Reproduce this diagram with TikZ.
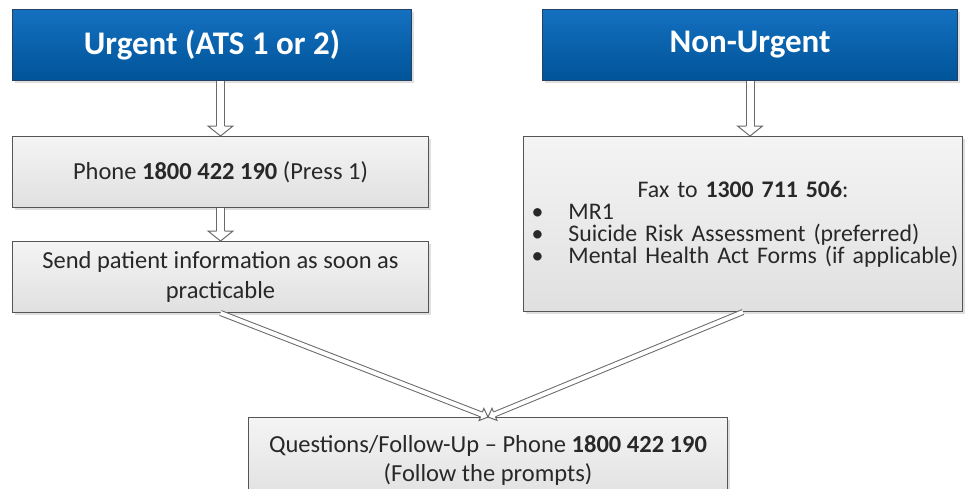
\documentclass[tikz,border=0pt]{standalone}
\usepackage{fontspec}
\setmainfont{Carlito}
\usetikzlibrary{positioning, calc, shadows}

\definecolor{titletop}{RGB}{20,112,192}
\definecolor{titlebot}{RGB}{0,84,152}
\definecolor{titleline}{RGB}{38,64,100}
\definecolor{boxtop}{RGB}{244,244,244}
\definecolor{boxbot}{RGB}{224,224,224}
\definecolor{boxline}{RGB}{85,85,85}
\definecolor{arrowline}{RGB}{105,105,105}
\definecolor{textgray}{RGB}{40,40,40}

\tikzset{
  titlebox/.style={draw=titleline, line width=1pt, top color=titletop, bottom color=titlebot,
    minimum height=71pt, text=white, font=\fontsize{33}{38}\selectfont\bfseries,
    drop shadow={shadow xshift=2pt, shadow yshift=-2pt, opacity=.25}},
  infobox/.style={draw=boxline, line width=1pt, top color=boxtop, bottom color=boxbot,
    drop shadow={shadow xshift=2pt, shadow yshift=-2pt, opacity=.25}},
  shaft/.style={draw=arrowline, line width=1pt, double=white},
}

% from, to, inner width, edge offset, head half width, head length
\newcommand{\hollowarrow}[6]{%
  \coordinate (hb) at ($(#2)!#6!(#1)$);
  \draw[shaft, double distance=#3] (#1) -- (hb);
  \filldraw[draw=arrowline, fill=white, line width=1pt, line join=miter]
    ($(hb)!#4!90:(#2)$) -- ($(hb)!#5!90:(#2)$) -- (#2)
    -- ($(hb)!#5!-90:(#2)$) -- ($(hb)!#4!-90:(#2)$);
}
\newcommand{\faxitem}[1]{\makebox[423pt][l]{\makebox[37pt][l]{\textbullet}#1}}

\begin{document}
\begin{tikzpicture}[x=1pt, y=-1pt, font=\color{textgray}\fontsize{24.5}{30}\selectfont]
  \useasboundingbox (0,0) rectangle (965,488);
  \fill[white] (0,0) rectangle (965,488);
  \clip (0,0) rectangle (965,488);
  % headings
  \node[titlebox, minimum width=399pt, anchor=north west] (urgent) at (12,9) {Urgent (ATS 1 or 2)};
  \node[titlebox, minimum width=415pt, anchor=north west] (nonurgent) at (542,9) {Non-Urgent};
  % urgent side
  \node[infobox, minimum width=416pt, minimum height=71pt, anchor=north west] (phone) at (12,136)
    {Phone \textbf{1800 422 190} (Press 1)};
  \node[infobox, minimum width=416pt, minimum height=71pt, below=33pt of phone, align=center] (send)
    {Send patient information as soon as\\practicable};
  % non-urgent side
  \node[infobox, minimum width=439pt, minimum height=175pt, anchor=north west, inner xsep=8pt,
    text width=423pt, align=center, font=\color{textgray}\fontsize{23.8}{22}\selectfont] (fax) at (523,136)
    {Fax to \textbf{1300 711 506}:\\
     \faxitem{MR1}\\
     \faxitem{Suicide Risk Assessment (preferred)}\\
     \faxitem{Mental Health Act Forms (if applicable)}};
  % both
  \node[infobox, minimum width=479pt, minimum height=86pt, anchor=north west, align=center,
    font=\color{textgray}\fontsize{24.5}{29}\selectfont] (follow) at (248,417)
    {Questions/Follow-Up – Phone \textbf{1800 422 190}\\(Follow the prompts)};

  \coordinate (ua) at (phone.north |- urgent.south);
  \coordinate (nb) at (nonurgent.south |- fax.north);
  \hollowarrow{ua}{phone.north}{7pt}{4pt}{12.5pt}{10pt}
  \hollowarrow{phone.south}{send.north}{7pt}{4pt}{12.5pt}{10pt}
  \hollowarrow{nonurgent.south}{nb}{7pt}{4pt}{12.5pt}{10pt}
  \hollowarrow{send.south}{follow.north}{4pt}{2.5pt}{6.5pt}{7pt}
  \hollowarrow{fax.south}{follow.north}{4pt}{2.5pt}{6.5pt}{7pt}
\end{tikzpicture}
\end{document}
